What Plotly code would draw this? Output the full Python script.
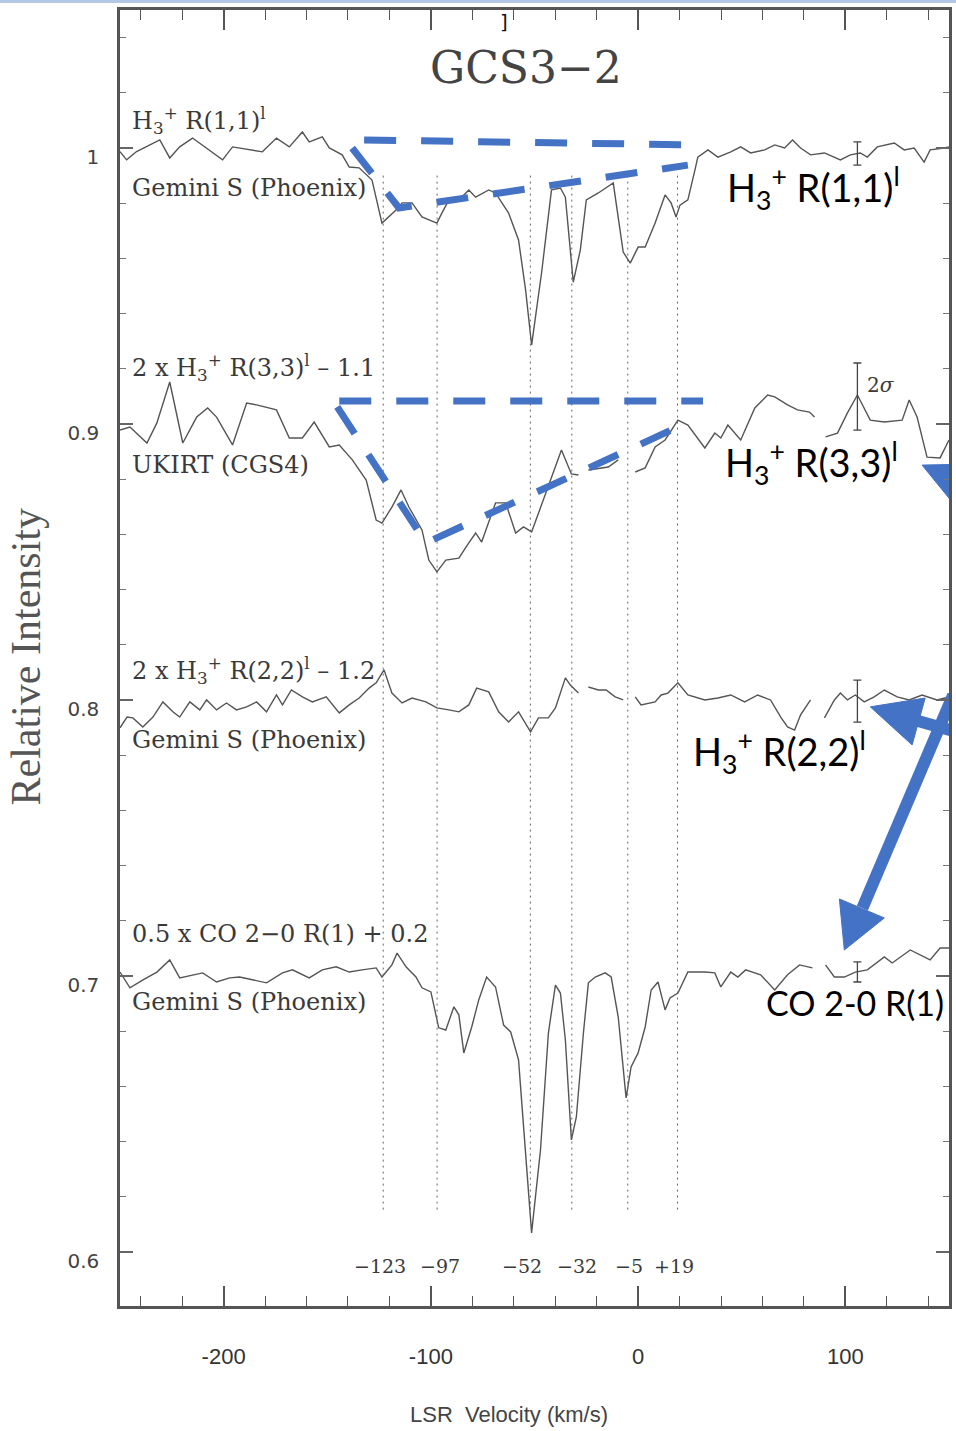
import plotly.graph_objects as go

# ---------------- data (LSR velocity in km/s, relative intensity) ----------------
v_h3_11 = [-250, -246.8, -242, -238.8, -230.8, -226, -221.2, -215, -208.2, -200.5, -195.7,
           -187.5, -181.3, -174.5, -168.3, -162, -158.7, -152.4, -149, -142.8, -139.4,
           -134.6, -128.4, -123.6, -120.2, -116.8, -113.9, -109.1, -104.3, -101, -97.1,
           -94.7, -91.3, -85.1, -81.7, -78.4, -72.1, -68.8, -62.5, -57.7, -54.3, -51.4,
           -46.6, -41.8, -37.5, -35.1, -31.3, -27.9, -25, -19.2, -12, -7.2, -3.8, 0, 3.4,
           8.2, 13, 15.9, 18.3, 20.2, 24, 27.4, 28.8, 33.7, 38.5, 44.7, 49.5, 54.3, 61.1,
           65.9, 70.7, 74.5, 78.4, 83.2, 89.9, 97.6, 102.4, 107.2, 110.6, 115.4, 123.6,
           128.4, 133.2, 138, 140.9, 147.6, 150]
i_h3_11 = [0.9987, 0.9957, 0.9987, 0.9999, 1.0029, 0.9964, 1.0004, 1.0036, 1.0, 0.9957, 1.0004,
           0.9993, 0.9986, 1.0036, 1.0004, 1.0058, 1.0022, 1.0040, 1.0, 0.9975, 0.9931,
           0.9928, 0.9884, 0.9728, 0.9750, 0.9775, 0.9801, 0.9801, 0.9750, 0.9739, 0.9728,
           0.9764, 0.9812, 0.9822, 0.9848, 0.9822, 0.9848, 0.9837, 0.9764, 0.9667, 0.9486, 0.9286,
           0.9547, 0.9848, 0.9855, 0.9822, 0.9514, 0.9630, 0.9812, 0.9837, 0.9873, 0.9623, 0.9583, 0.9641, 0.9641,
           0.9728, 0.9830, 0.9801, 0.9750, 0.9793, 0.9812, 0.9920, 0.9967, 0.9993, 0.9967, 0.9986, 1.0004, 0.9982, 0.9993,
           1.0011, 1.0, 1.0029, 1.0, 0.9975, 0.9982, 0.9957, 0.9975, 0.9982, 0.9967, 1.0004, 1.0018,
           0.9993, 1.0, 0.9949, 0.9993, 1.0, 1.0004]

v_h3_33 = [-250, -245.2, -237, -232.2, -226, -219.7, -213, -207.7, -203.4, -195.7, -188.9,
           -184.1, -174.5, -168.3, -162, -156.3, -149, -144.2, -137.9, -131.2, -126.4,
           -123.6, -118.8, -114.4, -110.6, -104.3, -101, -97.1, -92.8, -86.5, -81.7, -78.4,
           -75.5, -68.8, -63.9, -59.1, -55.3, -51.4, -46.6, -41.8, -37, -32.2, -28.8, None,
           -24, -14.4, -9.6, None, -1.4, 3.4, 8.2, 13, 19.2, 24, 32.2, 37, 39.9, 43.3, 49.5,
           56.3, 62.5, 65.9, 72.1, 76.9, 82.7, 85.1, None, 90.4, 96.2, 101, 105.8, 112,
           118.8, 127.4, 130.8, 134.6, 139.4, 145.7, 150]
i_h3_33 = [0.8978, 0.8989, 0.8931, 0.9004, 0.9152, 0.8931, 0.9025, 0.9058, 0.9025, 0.8924, 0.9076,
           0.9069, 0.9051, 0.8949, 0.8949, 0.9007, 0.8917, 0.8924, 0.8870, 0.8797, 0.8652,
           0.8641, 0.8699, 0.8761, 0.8699, 0.8616, 0.8507, 0.8464, 0.8507, 0.8514, 0.8569, 0.8605,
           0.8572, 0.8714, 0.8714, 0.8605, 0.8627, 0.8609, 0.8707, 0.8808, 0.8906, 0.8819, 0.8815, None,
           0.8833, 0.8844, 0.8870, None, 0.8826, 0.8841, 0.8917, 0.8942, 0.9014, 0.8996, 0.8913, 0.8967, 0.8949, 0.8996, 0.8942,
           0.9058, 0.9105, 0.9098, 0.9069, 0.9051, 0.9043, 0.9025, None, 0.8953, 0.8967, 0.9040, 0.9105, 0.9014,
           0.9007, 0.9014, 0.9087, 0.9025, 0.8880, 0.8877, 0.8942]

v_h3_22 = [-250, -246.6, -243.8, -239, -234.1, -229.3, -224.5, -221.2, -216.3, -211.5, -208.2,
           -203.4, -198.6, -193.8, -188.9, -184.1, -179.3, -174.5, -171.6, -167.3, -162,
           -157.2, -150.5, -144.2, -139.4, -134.6, -129.8, -126.4, -122.6, -118.8, -113.9,
           -109.1, -102.4, -97.1, -91.3, -86.5, -81.7, -77.9, -72.1, -67.3, -62.5, -57.7,
           -51.9, -48.1, -43.3, -39.9, -35.1, -32.7, -28.8, None, -24, -19.2, -15.4, -11.1,
           -7.2, None, -1.4, 1.4, 8.2, 11.1, 14.4, 19.2, 24, 32.2, 38.5, 44.7, 51.4, 57.7,
           63.9, 68.8, 72.1, 75.5, 78.4, 83.2, None, 89.9, 94.7, 97.6, 101, 104.8, 109.1,
           113.9, 118.8, 125, 130.8, 137, 144.2, 150]
i_h3_22 = [0.7899, 0.7938, 0.7935, 0.7902, 0.7938, 0.7993, 0.7957, 0.7938, 0.7993, 0.7964, 0.8000,
           0.7964, 0.7989, 0.7964, 0.7975, 0.7993, 0.7957, 0.8018, 0.7982, 0.8036, 0.8011,
           0.7993, 0.8011, 0.7953, 0.7982, 0.8007, 0.8043, 0.8062, 0.8109, 0.8025, 0.7989,
           0.8007, 0.7993, 0.7971, 0.7964, 0.7957, 0.7982, 0.8043, 0.8029, 0.7957, 0.7920, 0.7957,
           0.7884, 0.7935, 0.7935, 0.7971, 0.8080, 0.8054, 0.8025, None, 0.8047, 0.8036, 0.8036, 0.8011,
           0.8000, None, 0.8011, 0.7982, 0.7993, 0.8018, 0.8025, 0.8062, 0.8018, 0.8000, 0.8007, 0.8018, 0.7993, 0.8018,
           0.8000, 0.7938, 0.7902, 0.7891, 0.7946, 0.8000, None, 0.7935, 0.8000, 0.8025, 0.8000, 0.8018, 0.7993,
           0.8011, 0.8036, 0.8011, 0.8000, 0.8018, 0.8000, 0.8011]

v_co = [-250, -245.2, -238.9, -232.2, -226, -221.2, -210.1, -203.4, -197.1, -192.3, -186.1,
        -179.3, -171.6, -166.8, -158.7, -152.4, -145.7, -139.4, -133.2, -126.4, -123.6,
        -118.8, -116.3, -112, -107.2, -104.3, -100, -96.2, -92.8, -88.9, -86.5, -84.1,
        -80.3, -76.9, -73.1, -68.8, -64.9, -61.5, -57.7, -54.3, -51.4, -47.1, -43.3, -39.9,
        -37.5, -35.1, -32.2, -29.8, -26.4, -24, -20.7, -15.9, -13, -9.6, -5.8, -3.4, 0,
        3.4, 6.3, 9.6, 13, 15.4, 19.2, 24, 32.2, 37, 39.9, 44.7, 48.1, 51.9, 59.1, 65.9,
        72.1, 77.9, 84.1, None, 90.4, 94.7, 99.5, 104.8, 110.6, 118.8, 122.6, 131.3, 140.9,
        145.7, 150]
i_co = [0.7014, 0.6957, 0.6986, 0.7014, 0.7058, 0.6993, 0.7011, 0.6978, 0.6993, 0.6996, 0.6986,
        0.6975, 0.7011, 0.7022, 0.6993, 0.7022, 0.7033, 0.7014, 0.7022, 0.7029, 0.6996,
        0.7040, 0.7083, 0.7033, 0.6996, 0.6957, 0.6942, 0.6812, 0.6804, 0.6888, 0.6859, 0.6721,
        0.6815, 0.6913, 0.6996, 0.6960, 0.6822, 0.6797, 0.6696, 0.6370, 0.6069, 0.6370, 0.6793, 0.6967,
        0.6938, 0.6768, 0.6406, 0.6489, 0.6793, 0.6975, 0.6996, 0.7011, 0.6996, 0.6851, 0.6558, 0.6670, 0.6721,
        0.6815, 0.6949, 0.6978, 0.6877, 0.6920, 0.6938, 0.7014, 0.7014, 0.7011, 0.6960, 0.7014, 0.6996, 0.7022, 0.7004, 0.6949,
        0.7004, 0.7040, 0.7029, None, 0.7040, 0.6996, 0.6996, 0.7014, 0.7022, 0.7069, 0.7047, 0.7094, 0.7058,
        0.7101, 0.7101]

# velocity components marked by dotted lines
component_v = [-123, -97, -52, -32, -5, 19]
component_labels = ["\u2212123", "\u221297", "\u221252", "\u221232", "\u22125", "+19"]
component_label_shift = [-3, 3, -8, 5, 1, -4]
component_y_range = [0.9900, 0.6152]

# noise error bars (2 sigma) at v = 105.8 km/s
err_v = [105.8, 105.8, 105.8, 105.8]
err_center = [0.9980, 0.90995, 0.7996, 0.70145]
err_half = [0.0042, 0.01215, 0.0076, 0.00365]

# spectrum labels
spec_labels = ["H<sub>3</sub><sup>+</sup> R(1,1)<sup>l</sup>", "Gemini S (Phoenix)",
               "2 x H<sub>3</sub><sup>+</sup> R(3,3)<sup>l</sup> \u2013 1.1", "UKIRT (CGS4)",
               "2 x H<sub>3</sub><sup>+</sup> R(2,2)<sup>l</sup> \u2013 1.2", "Gemini S (Phoenix)",
               "0.5 x CO 2\u22120 R(1) + 0.2", "Gemini S (Phoenix)"]
spec_label_y = [1.0101, 0.9855, 0.9203, 0.8851, 0.8105, 0.7855, 0.7152, 0.6906]

# overlay: dashed triangles (blue) marking broad absorption
tri1_top_v = [-132.2, 28.8]
tri1_top_i = [1.0029, 1.0011]
tri1_v = [-138.0, -115.4, 24.0]
tri1_i = [1.0000, 0.9783, 0.9938]
tri2_top_v = [-144.2, 31.3]
tri2_top_i = [0.9083, 0.9083]
tri2_v = [-145.2, -102.4, 19.2]
tri2_i = [0.9062, 0.8569, 0.8989]

# overlay text labels
ov_texts = ["H<sub>3</sub><sup>+</sup> R(1,1)<sup>l</sup>", "H<sub>3</sub><sup>+</sup> R(3,3)<sup>l</sup>",
            "H<sub>3</sub><sup>+</sup> R(2,2)<sup>l</sup>", "CO 2-0 R(1)"]
ov_x = [41.8, 40.9, 25.5, 60.6]
ov_y = [0.9855, 0.8859, 0.7812, 0.6902]
ov_size = [38, 38, 38, 34]

# overlay arrows: heads (tip, corner, corner) and shafts
headA_v = [137.0, 163.5, 153.8]
headA_i = [0.8851, 0.8855, 0.8696]
shaftA_v = [158.7, 175.0]
shaftA_i = [0.8775, 0.8700]
headB_v = [112.0, 138.5, 132.2]
headB_i = [0.7975, 0.8007, 0.7837]
shaftB_v = [135.1, 152.0]
shaftB_i = [0.7924, 0.7888]
headC_v = [99.5, 97.1, 118.8]
headC_i = [0.7094, 0.7279, 0.7210]
shaftC_v = [108.2, 152.0]
shaftC_i = [0.7246, 0.8018]

# ---------------- figure ----------------
SPEC = "#555555"
BLUE = "#4472C4"
fig = go.Figure()

for vv, ii, nm in [(v_h3_11, i_h3_11, "H3+ R(1,1)l"), (v_h3_33, i_h3_33, "2 x H3+ R(3,3)l - 1.1"),
                   (v_h3_22, i_h3_22, "2 x H3+ R(2,2)l - 1.2"), (v_co, i_co, "0.5 x CO 2-0 R(1) + 0.2")]:
    fig.add_trace(go.Scatter(x=vv, y=ii, mode="lines", name=nm,
                             line=dict(color=SPEC, width=1.4), connectgaps=False))

# dotted velocity component lines
dx, dy = [], []
for v in component_v:
    dx += [v, v, None]
    dy += [component_y_range[0], component_y_range[1], None]
fig.add_trace(go.Scatter(x=dx, y=dy, mode="lines", line=dict(color="#666666", width=1, dash="2px,4px"),
                         name="components"))

# error bars
fig.add_trace(go.Scatter(x=err_v, y=err_center, mode="markers", marker=dict(size=1, color=SPEC),
                         error_y=dict(type="data", array=err_half, visible=True, color="#444444",
                                      thickness=1.3, width=4), name="2 sigma"))

# blue dashed triangles
dash = "32px,25px"
for vv, ii in [(tri1_top_v, tri1_top_i), (tri1_v, tri1_i), (tri2_top_v, tri2_top_i), (tri2_v, tri2_i)]:
    fig.add_trace(go.Scatter(x=vv, y=ii, mode="lines", line=dict(color=BLUE, width=7, dash=dash)))

# arrows
for hv, hi in [(headA_v, headA_i), (headB_v, headB_i), (headC_v, headC_i)]:
    fig.add_trace(go.Scatter(x=hv + [hv[0]], y=hi + [hi[0]], mode="lines", fill="toself",
                             fillcolor=BLUE, line=dict(color=BLUE, width=1)))
for sv, si in [(shaftA_v, shaftA_i), (shaftB_v, shaftB_i), (shaftC_v, shaftC_i)]:
    fig.add_trace(go.Scatter(x=sv, y=si, mode="lines", line=dict(color=BLUE, width=12)))

ann = []
LBL_FONT = dict(family="DejaVu Serif", size=24, color="#3a3a3a")
for t, y in zip(spec_labels, spec_label_y):
    ann.append(dict(x=-245.2, y=y, xref="x", yref="y", text=t, showarrow=False,
                    xanchor="left", yanchor="middle", font=LBL_FONT))
for v, t, s in zip(component_v, component_labels, component_label_shift):
    ann.append(dict(x=v, y=0.5949, xref="x", yref="y", text=t, showarrow=False, xshift=s,
                    xanchor="center", yanchor="middle",
                    font=dict(family="DejaVu Serif", size=19, color="#3a3a3a")))
ann.append(dict(x=-54.3, y=1.0293, xref="x", yref="y", text="GCS3\u22122", showarrow=False,
                xanchor="center", yanchor="middle", font=dict(family="DejaVu Serif", size=44, color="#444444")))
ann.append(dict(x=109.6, y=0.9141, xref="x", yref="y", text="2<i>\u03c3</i>", showarrow=False,
                xanchor="left", yanchor="middle", font=dict(family="DejaVu Serif", size=20, color="#3a3a3a")))
ann.append(dict(x=-64.9, y=1.0457, xref="x", yref="y", text="]", showarrow=False,
                xanchor="center", yanchor="middle", font=dict(family="DejaVu Sans", size=20, color="#111111")))
for t, x, y, s in zip(ov_texts, ov_x, ov_y, ov_size):
    ann.append(dict(x=x, y=y, xref="x", yref="y", text=t, showarrow=False,
                    xanchor="left", yanchor="middle", font=dict(family="Lato", size=s, color="#000000")))
# axis titles
ann.append(dict(x=0.469, y=-0.084, xref="paper", yref="paper", text="LSR  Velocity (km/s)", showarrow=False,
                xanchor="center", yanchor="middle", font=dict(family="Liberation Sans", size=22, color="#444444")))
ann.append(dict(x=-0.114, y=0.5008, xref="paper", yref="paper", text="Relative Intensity", showarrow=False,
                textangle=-90, xanchor="center", yanchor="middle",
                font=dict(family="Liberation Serif", size=42, color="#555555")))

fig.update_layout(
    width=956, height=1431,
    margin=dict(l=120, r=4, t=10, b=125),
    paper_bgcolor="white", plot_bgcolor="white",
    showlegend=False,
    annotations=ann,
    shapes=[dict(type="line", xref="paper", yref="paper", x0=-0.15, x1=1.01, y0=1.0066, y1=1.0066,
                 line=dict(color="#B4C7E7", width=3))],
    xaxis=dict(range=[-250, 150], tickvals=[-200, -100, 0, 100], ticktext=["-200", "-100", "0", "100"],
               ticks="inside", ticklen=20, tickwidth=1.5, tickcolor="#555555",
               showline=True, linewidth=2.5, linecolor="#555555", mirror="allticks",
               showgrid=False, zeroline=False, ticklabelstandoff=29,
               tickfont=dict(family="Liberation Sans", size=22, color="#333333"),
               minor=dict(dtick=20, ticks="inside", ticklen=10, tickwidth=1.2, tickcolor="#555555",
                          showgrid=False)),
    yaxis=dict(range=[0.5804, 1.05], tickvals=[0.6, 0.7, 0.8, 0.9, 1.0],
               ticktext=["0.6", "0.7", "0.8", "0.9", "1"],
               ticks="inside", ticklen=13, tickwidth=1.5, tickcolor="#666666",
               showline=True, linewidth=2.5, linecolor="#555555", mirror="allticks",
               showgrid=False, zeroline=False, ticklabelstandoff=14, ticklabelshift=9,
               tickfont=dict(family="DejaVu Sans", size=20, color="#444444"),
               minor=dict(dtick=0.02, ticks="inside", ticklen=6, tickwidth=1.2, tickcolor="#777777",
                          showgrid=False)),
)

fig.write_html("out.html", config={"displayModeBar": False},
               post_script="document.body.style.margin='0px';document.body.style.overflow='hidden';")
